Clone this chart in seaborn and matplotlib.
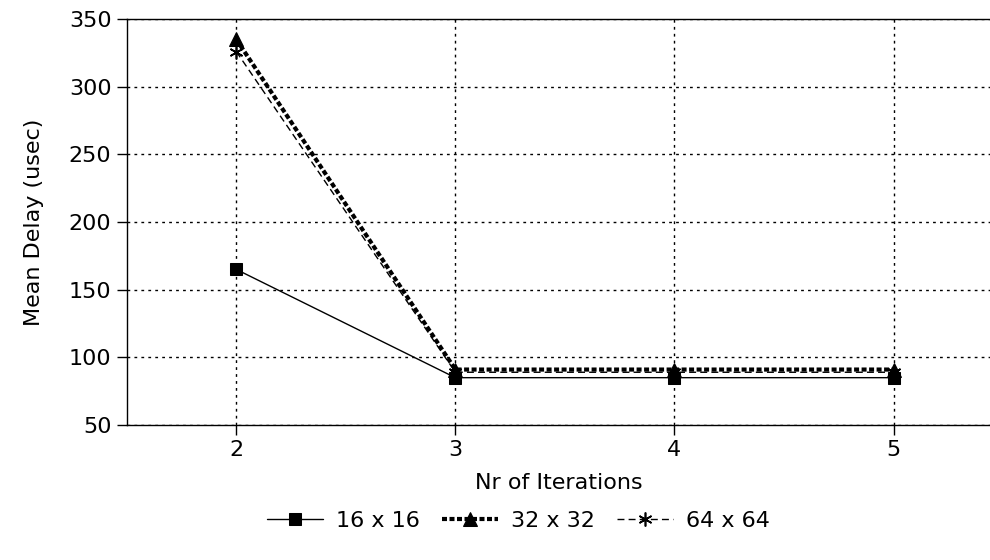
import numpy as np
import pandas as pd
import matplotlib
matplotlib.use("Agg")
import matplotlib.pyplot as plt
import seaborn as sns

# data
iterations = [2, 3, 4, 5]
delay_16 = [165, 85, 85, 85]
delay_32 = [335, 91, 91, 91]
delay_64 = [326, 89, 89, 89]
labels = ["16 x 16", "32 x 32", "64 x 64"]

sns.set_style("white")
plt.rcParams['font.family'] = ['DejaVu Sans']
plt.rcParams['text.color'] = "black"
plt.rcParams['axes.labelcolor'] = "black"
plt.rcParams['xtick.color'] = "black"
plt.rcParams['ytick.color'] = "black"

fig = plt.figure(figsize=(9.9, 5.6), dpi=100)
ax = fig.add_axes([0.128, 0.241, 0.872, 0.725])

styles = [
    dict(linestyle="-", linewidth=1.0, marker="s", markersize=8),
    dict(linestyle=(0, (1.2, 0.6)), linewidth=3.0, marker="^", markersize=10),
    dict(linestyle=(0, (5, 3)), linewidth=1.0, marker=(6, 2, 0), markersize=10, markeredgewidth=1.2),
]
for vals, lab, st in zip([delay_16, delay_32, delay_64], labels, styles):
    sns.lineplot(x=iterations, y=vals, ax=ax, color="black", label=lab,
                 markeredgecolor="black", **st)

ax.set_xlim(1.5, 5.44)
ax.set_ylim(50, 350)
ax.set_xticks(iterations)
ax.set_yticks(np.arange(50, 351, 50))
ax.grid(True, color="black", linestyle=(0, (2, 3)), linewidth=1.0)
ax.tick_params(axis="both", direction="out", length=7, width=1, labelsize=16,
               color="black", labelcolor="black", bottom=True, left=True, pad=4)
for side in ["left", "bottom", "top"]:
    ax.spines[side].set_color("black")
    ax.spines[side].set_linewidth(1.0)
ax.spines["right"].set_visible(False)

ax.set_xlabel("Nr of Iterations", fontsize=16, labelpad=9)
ax.set_ylabel("Mean Delay (usec)", fontsize=16, labelpad=18)

ax.legend(loc="center", bbox_to_anchor=(0.454, -0.236), ncol=3, frameon=False,
          fontsize=16, handlelength=2.5, columnspacing=1.0, handletextpad=0.6)

fig.savefig("out.png", dpi=100)
